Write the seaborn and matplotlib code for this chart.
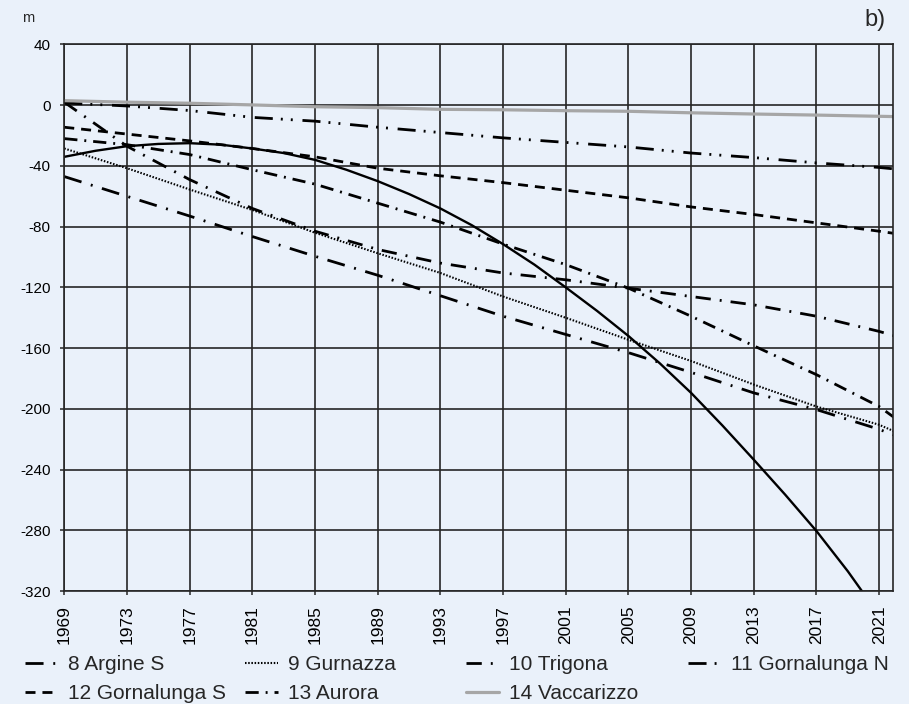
import matplotlib.pyplot as plt
import seaborn as sns
import numpy as np
import pandas as pd

# values (m), one point every 4 years plus the last year
years = [1969, 1973, 1977, 1981, 1985, 1989, 1993, 1997, 2001, 2005, 2009, 2013, 2017, 2021, 2022]

argine_s = [-47, -60, -73, -86.5, -99.5, -112, -125.5, -139, -151, -163, -176, -189.5, -200.5, -213.5, -217.5]
gurnazza = [-28.5, -41.5, -55.5, -69, -84, -97.5, -110.5, -126, -140, -154.5, -168.5, -184, -198.5, -210.5, -215]
trigona = [2, -27, -49, -68, -83, -95, -104, -110.5, -115, -120.5, -126, -131.5, -139, -149, -152]
gornalunga_n = [1.5, -0.5, -3.5, -8, -10.5, -14.5, -18, -21.5, -24.5, -27.5, -31.5, -34.5, -38, -41, -42]
gornalunga_s = [-14.5, -19, -23.5, -28.5, -34, -41.5, -46.5, -51, -56, -61, -67, -72, -77.5, -83, -84.5]
aurora = [-22, -26, -32.5, -42.5, -52, -64.5, -77, -91.5, -105, -120.5, -139, -158.5, -177.5, -198.5, -206]
vaccarizzo = [3, 2, 1.3, 0.2, -1, -1.6, -2.7, -3, -3.6, -4, -5, -5.8, -6.5, -7.3, -7.5]

# solid black curve (no legend entry in the original), read every 2 years
curve_years = [1969, 1971, 1973, 1975, 1977, 1979, 1981, 1983, 1985, 1987, 1989, 1991, 1993, 1995,
               1997, 1999, 2001, 2003, 2005, 2007, 2009, 2011, 2013, 2015, 2017, 2019, 2021]
unlabelled = [-34, -30, -27, -25.5, -25, -26, -28.5, -31.5, -36, -42.5, -50, -58.5, -68, -79,
              -91.5, -105, -120, -135.5, -152, -170, -189.5, -211, -233.5, -256.5, -280.5, -307, -336]

sns.set_theme(style="ticks")
plt.rcParams['font.family'] = ['Liberation Sans', 'DejaVu Sans']
plt.rcParams['lines.scale_dashes'] = False
plt.rcParams['axes.unicode_minus'] = False

bg = '#eaf1fa'
dark = '#262626'

fig = plt.figure(figsize=(9.09, 7.04), dpi=100, facecolor=bg)
ax = fig.add_axes([0.0707, 0.1605, 0.9113, 0.7763])
ax.set_facecolor(bg)

series = [
    ('8 Argine S', argine_s, 'black', 2.0, (0, (13, 7, 1.4, 7))),
    ('9 Gurnazza', gurnazza, 'black', 1.5, (0, (1.1, 1.2))),
    ('10 Trigona', trigona, 'black', 2.0, (0, (11, 6.5, 1.4, 6.5))),
    ('11 Gornalunga N', gornalunga_n, 'black', 2.0, (0, (13, 5.8, 1.4, 5.8, 1.4, 7))),
    ('12 Gornalunga S', gornalunga_s, 'black', 2.0, (0, (7.2, 5))),
    ('13 Aurora', aurora, 'black', 2.0, (0, (9.5, 5, 1.4, 5))),
    ('14 Vaccarizzo', vaccarizzo, '#a6a6a6', 2.3, '-'),
]

handles = {}
for label, vals, color, lw, ls in series:
    sns.lineplot(x=years, y=vals, color=color, linewidth=lw, linestyle=ls,
                 label=label, legend=False, ax=ax)
    handles[label] = ax.get_lines()[-1]

sns.lineplot(x=curve_years, y=unlabelled, color='black', linewidth=1.7, legend=False, ax=ax)

ax.set_xlim(1969, 2021.86)
ax.set_ylim(-320, 40)
ax.set_xticks(range(1969, 2022, 4))
ax.set_yticks(range(-320, 41, 40))
ax.set_axisbelow(True)
ax.grid(True, color=dark, linewidth=1.2)
for sp in ax.spines.values():
    sp.set_visible(True)
    sp.set_color(dark)
    sp.set_linewidth(1.2)
ax.tick_params(axis='both', direction='out', length=3, width=1.1, color=dark, labelcolor='black')
ax.tick_params(axis='x', labelsize=12.5, labelrotation=90, pad=7)
ax.tick_params(axis='y', labelsize=11, pad=7)
ax.set_xlabel('')
ax.set_ylabel('')

fig.text(22 / 909, 1 - 18 / 704, 'm', fontsize=10.5, ha='left', va='center')
fig.text(886 / 909, 1 - 20 / 704, 'b)', fontsize=17, ha='right', va='center')

# legend laid out as four fixed columns under the axis
columns = [
    (25, ['8 Argine S', '12 Gornalunga S']),
    (245, ['9 Gurnazza', '13 Aurora']),
    (466, ['10 Trigona', '14 Vaccarizzo']),
    (688, ['11 Gornalunga N']),
]
for x0, labels in columns:
    fig.legend([handles[l] for l in labels], labels, loc='upper left',
               bbox_to_anchor=(x0 / 909, 1 - 655 / 704), frameon=False,
               fontsize=15, handlelength=1.6, handletextpad=0.45,
               labelspacing=0.5, borderpad=0, borderaxespad=0)

fig.savefig('out.png', dpi=100, facecolor=bg)
